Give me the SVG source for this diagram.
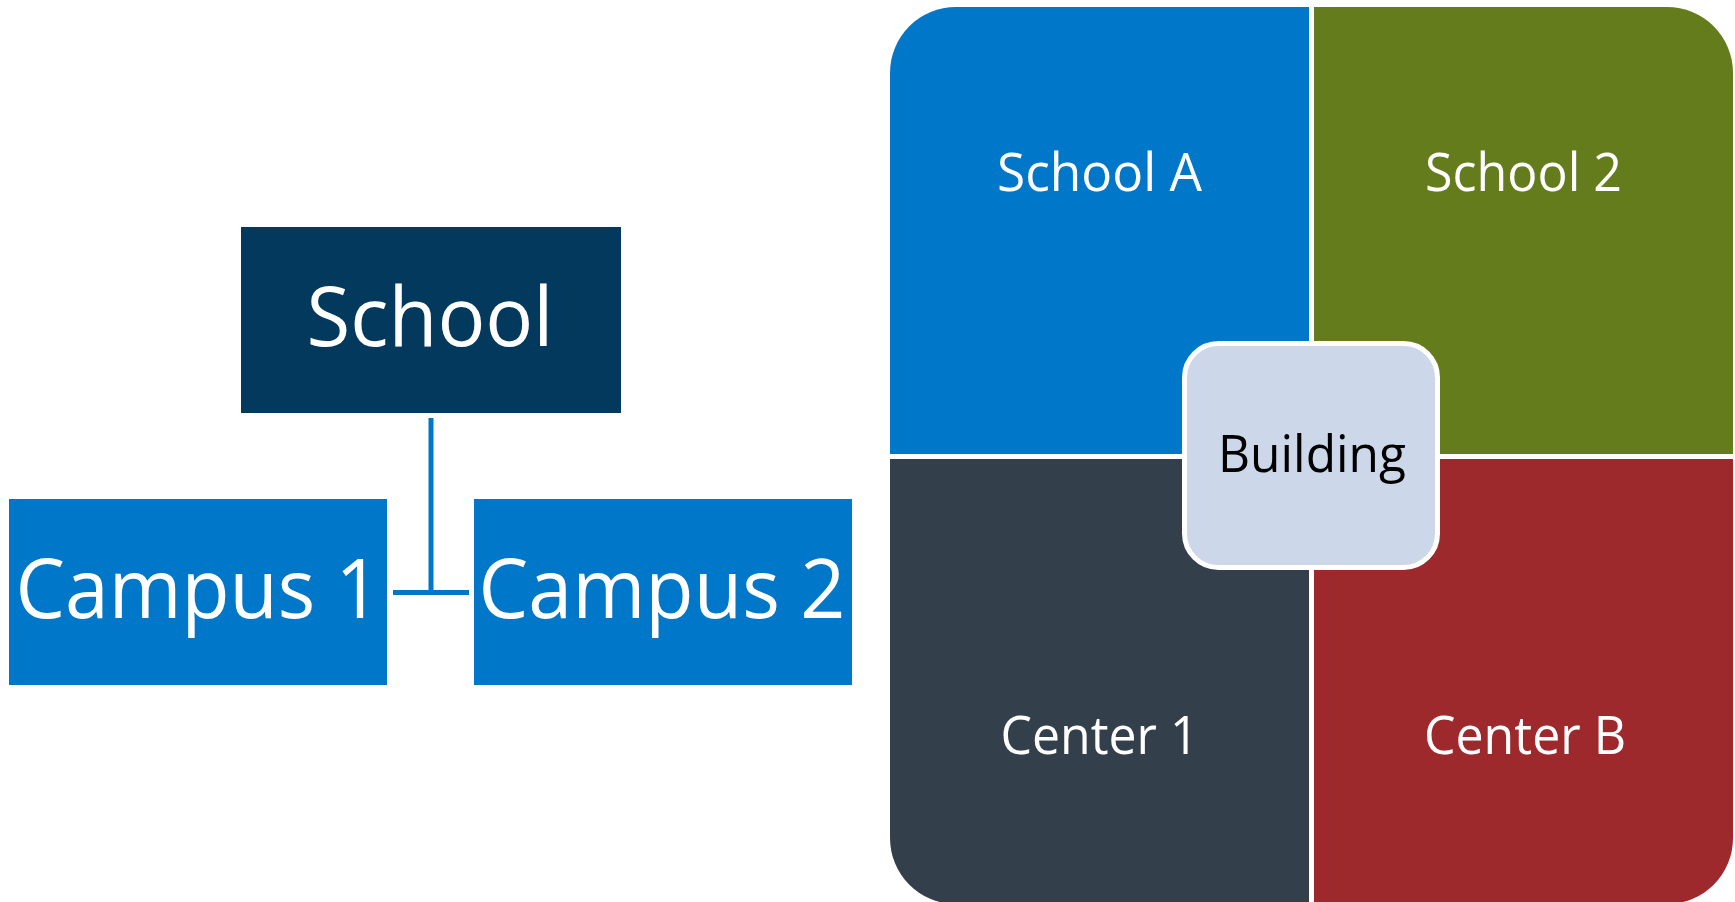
<svg xmlns="http://www.w3.org/2000/svg" width="1735" height="902" viewBox="0 0 1735 902">
  <style>
    text { font-family: "Open Sans", "Noto Sans", "Liberation Sans", sans-serif; text-anchor: middle; }
    .big { font-size: 83px; fill: #ffffff; }
    .mid { font-size: 53px; fill: #ffffff; }
    .dark { font-size: 52px; fill: #000000; }
    .conn { stroke: #0077C8; stroke-width: 5; fill: none; }
  </style>
  <rect width="1735" height="902" fill="#ffffff"/>
  <g id="school">
    <rect x="241" y="227" width="380" height="186" fill="#03395C"/>
    <text class="big" x="430" y="346" textLength="247" lengthAdjust="spacingAndGlyphs">School</text>
  </g>
  <g id="campus1">
    <rect x="9" y="499" width="378" height="186" fill="#0077C8"/>
    <text class="big" x="198" y="618" textLength="365" lengthAdjust="spacingAndGlyphs">Campus 1</text>
  </g>
  <g id="campus2">
    <rect x="474" y="499" width="378" height="186" fill="#0077C8"/>
    <text class="big" x="662" y="618" textLength="367" lengthAdjust="spacingAndGlyphs">Campus 2</text>
  </g>
  <g id="connectors">
    <line class="conn" x1="431" y1="418" x2="431" y2="592.5"/>
    <line class="conn" x1="393" y1="592.5" x2="469" y2="592.5"/>
  </g>
  <g id="schoolA">
    <path d="M890,73 A66,66 0 0 1 956,7 H1309 V454 H890 Z" fill="#0077C8"/>
    <text class="mid" x="1099.5" y="191" textLength="205" lengthAdjust="spacingAndGlyphs">School A</text>
  </g>
  <g id="school2">
    <path d="M1314,7 H1667 A66,66 0 0 1 1733,73 V454 H1314 Z" fill="#657C1D"/>
    <text class="mid" x="1523.5" y="191" textLength="197" lengthAdjust="spacingAndGlyphs">School 2</text>
  </g>
  <g id="center1">
    <path d="M890,459 H1309 V904 H956 A66,66 0 0 1 890,838 Z" fill="#333F4A"/>
    <text class="mid" x="1099.5" y="754" textLength="198" lengthAdjust="spacingAndGlyphs">Center 1</text>
  </g>
  <g id="centerB">
    <path d="M1314,459 H1733 V838 A66,66 0 0 1 1667,904 H1314 Z" fill="#9E292D"/>
    <text class="mid" x="1525" y="754" textLength="202" lengthAdjust="spacingAndGlyphs">Center B</text>
  </g>
  <g id="building">
    <rect x="1184.5" y="343.5" width="253" height="224" rx="34" ry="34" fill="#CCD7EA" stroke="#ffffff" stroke-width="5"/>
    <text class="dark" x="1312" y="472" textLength="188" lengthAdjust="spacingAndGlyphs">Building</text>
  </g>
</svg>
